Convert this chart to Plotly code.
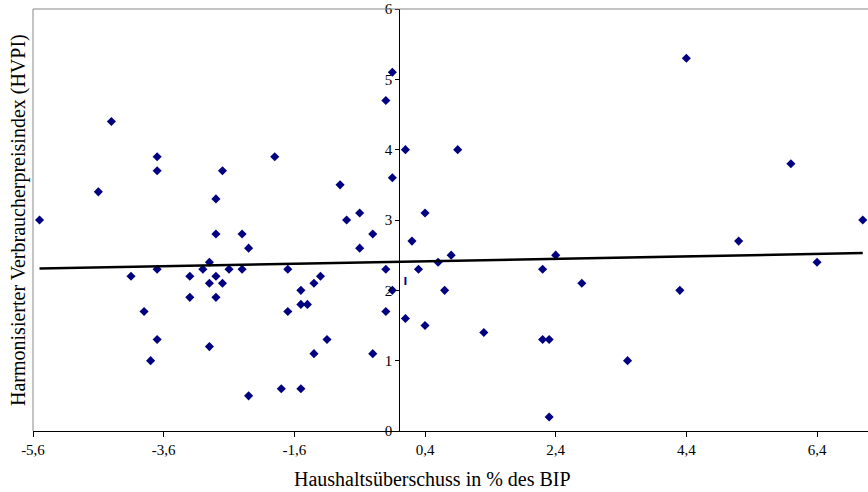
import plotly.graph_objects as go

# Budget surplus (% of GDP) vs HICP inflation
surplus = [-5.5, -4.6, -4.4, -4.1, -3.9, -3.8, -3.7, -3.7, -3.7, -3.7,
           -3.2, -3.2, -3.0, -2.9, -2.9, -2.9, -2.8, -2.8, -2.8, -2.8,
           -2.7, -2.7, -2.6, -2.4, -2.4, -2.3, -2.3, -1.9, -1.8, -1.7,
           -1.7, -1.5, -1.5, -1.5, -1.4, -1.3, -1.3, -1.2, -1.1, -0.9,
           -0.8, -0.6, -0.6, -0.4, -0.4, -0.2, -0.2, -0.2, -0.1, -0.1,
           -0.1, 0.1, 0.1, 0.2, 0.3, 0.4, 0.4, 0.6, 0.7, 0.8,
           0.9, 1.3, 2.2, 2.2, 2.3, 2.3, 2.4, 2.8, 3.5, 4.3,
           4.4, 5.2, 6.0, 6.4, 7.1]
hvpi = [3.0, 3.4, 4.4, 2.2, 1.7, 1.0, 3.9, 3.7, 2.3, 1.3,
        2.2, 1.9, 2.3, 2.4, 2.1, 1.2, 3.3, 2.8, 2.2, 1.9,
        3.7, 2.1, 2.3, 2.8, 2.3, 0.5, 2.6, 3.9, 0.6, 2.3,
        1.7, 2.0, 1.8, 0.6, 1.8, 1.1, 2.1, 2.2, 1.3, 3.5,
        3.0, 3.1, 2.6, 2.8, 1.1, 4.7, 2.3, 1.7, 5.1, 3.6,
        2.0, 4.0, 1.6, 2.7, 2.3, 3.1, 1.5, 2.4, 2.0, 2.5,
        4.0, 1.4, 2.3, 1.3, 1.3, 0.2, 2.5, 2.1, 1.0, 2.0,
        5.3, 2.7, 3.8, 2.4, 3.0]

trend_x = [-5.5, 7.1]
trend_y = [2.31, 2.53]

x_tickvals = [-5.6, -3.6, -1.6, 0.4, 2.4, 4.4, 6.4]
x_ticktext = ["-5,6", "-3,6", "-1,6", "0,4", "2,4", "4,4", "6,4"]
y_tickvals = [0, 1, 2, 3, 4, 5, 6]
y_ticktext = ["0", "1", "2", "3", "4", "5", "6"]

stray_x = [0.1]
stray_y = [2.11]

FONT = "Liberation Serif"
NAVY = "#000080"

fig = go.Figure()
fig.add_trace(go.Scatter(x=surplus, y=hvpi, mode="markers",
                         marker=dict(symbol="diamond", size=7, color=NAVY),
                         showlegend=False, cliponaxis=False))
fig.add_trace(go.Scatter(x=trend_x, y=trend_y, mode="lines",
                         line=dict(color="black", width=2.5),
                         showlegend=False))
fig.add_trace(go.Scatter(x=stray_x, y=stray_y, mode="text", text=["<b>I</b>"],
                         textfont=dict(family="DejaVu Sans", size=10, color=NAVY),
                         showlegend=False))

fig.update_layout(
    width=868, height=492,
    margin=dict(l=33, r=0, t=9, b=61),
    plot_bgcolor="white", paper_bgcolor="white",
    separators=",.",
    font=dict(family=FONT, color="black"),
    xaxis=dict(range=[-5.6, 7.18], tickvals=x_tickvals, ticktext=x_ticktext,
               ticks="outside", ticklen=5, tickcolor="black",
               showline=True, linecolor="black", linewidth=1,
               showgrid=False, zeroline=False, automargin=False,
               tickfont=dict(family=FONT, size=15, color="black")),
    yaxis=dict(range=[0, 6], tickvals=y_tickvals, ticktext=y_ticktext,
               anchor="free", position=0.4386,
               ticks="outside", ticklen=4, tickcolor="black",
               showline=True, linecolor="black", linewidth=1,
               showgrid=False, zeroline=False, automargin=False,
               tickfont=dict(family=FONT, size=15, color="black")),
    shapes=[
        dict(type="line", xref="paper", yref="paper", x0=0, x1=0, y0=0, y1=1,
             line=dict(color="#888888", width=1)),
        dict(type="line", xref="paper", yref="paper", x0=0, x1=1, y0=1, y1=1,
             line=dict(color="#888888", width=1)),
    ],
    annotations=[
        dict(text="Haushaltsüberschuss in % des BIP", xref="paper", yref="paper",
             x=0.4785, y=-0.1137, xanchor="center", yanchor="middle",
             showarrow=False, font=dict(family=FONT, size=20, color="black")),
        dict(text="Harmonisierter Verbraucherpreisindex (HVPI)", xref="paper", yref="paper",
             x=-0.018, y=0.5, xanchor="center", yanchor="middle", textangle=-90,
             showarrow=False, font=dict(family=FONT, size=20, color="black")),
    ],
)

fig.write_html("out.html", config={"displayModeBar": False},
               post_script="document.body.style.margin='0';document.body.style.overflow='hidden';")
